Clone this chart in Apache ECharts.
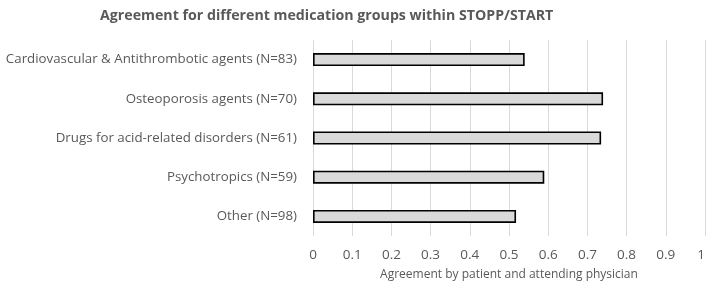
<!DOCTYPE html>
<html>
<head>
<meta charset="utf-8">
<script src="https://cdn.jsdelivr.net/npm/echarts@6/dist/echarts.min.js"></script>
<style>
  html, body { margin: 0; padding: 0; background: #fff; }
  #chart { width: 709px; height: 287px; }
</style>
</head>
<body>
<div id="chart"></div>
<script>
const categories = [
  'Cardiovascular & Antithrombotic agents (N=83)',
  'Osteoporosis agents (N=70)',
  'Drugs for acid-related disorders (N=61)',
  'Psychotropics (N=59)',
  'Other (N=98)',
]
const agreement = [0.54, 0.74, 0.735, 0.59, 0.518]

const textColor = '#595959'
const font = 'Open Sans'

const chart = echarts.init(document.getElementById('chart'), null, { renderer: 'canvas' })

chart.setOption({
  animation: false,
  title: {
    text: 'Agreement for different medication groups within STOPP/START',
    left: 95,
    top: 4,
    textStyle: { fontFamily: font, fontSize: 14.2, fontWeight: 'bold', color: textColor },
  },
  grid: { left: 313, right: 4, top: 40, bottom: 51, outerBoundsMode: 'none' },
  xAxis: {
    type: 'value',
    min: 0,
    max: 1,
    interval: 0.1,
    name: 'Agreement by patient and attending physician',
    nameLocation: 'middle',
    nameGap: 33,
    nameTextStyle: { fontFamily: font, fontSize: 12, color: textColor },
    axisLine: { show: false },
    axisTick: { show: false },
    axisLabel: {
      fontFamily: font,
      fontSize: 13.5,
      color: textColor,
      margin: 12,
      alignMaxLabel: 'right',
      formatter: (v) => String(Math.round(v * 10) / 10),
    },
    splitLine: { show: true, lineStyle: { color: '#d9d9d9', width: 1 } },
  },
  yAxis: {
    type: 'category',
    data: categories,
    inverse: true,
    axisLine: { show: false },
    axisTick: { show: false },
    axisLabel: { fontFamily: font, fontSize: 13.3, color: textColor, margin: 16 },
  },
  series: [
    {
      type: 'bar',
      data: agreement,
      barWidth: 13,
      itemStyle: { color: '#d9d9d9', borderColor: '#000', borderWidth: 1.6 },
    },
  ],
})
</script>
</body>
</html>
